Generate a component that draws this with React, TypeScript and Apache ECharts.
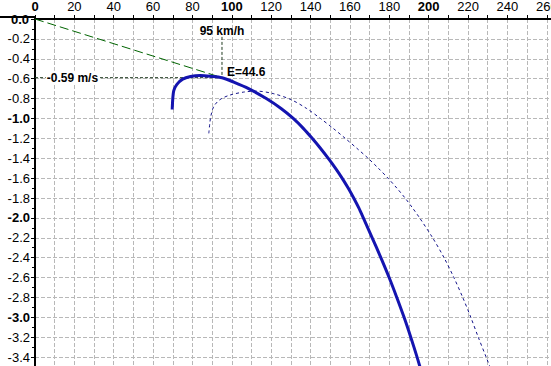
import React, { useEffect, useRef } from 'react';
import * as echarts from 'echarts';

// Glider polar (speed km/h, sink m/s)
const polarSpeed = [69.7, 70, 70.5, 72, 75, 79, 84, 89, 95, 101, 108.5, 117.5, 125, 131.2, 136.3, 140.8, 145, 148.9, 152.6, 156, 159.1, 161.9, 164.5, 166.8, 171.3, 175.7, 179.9, 183.8, 187.5, 190.9, 194.1, 195.6];
const polarSink = [-0.91, -0.8, -0.72, -0.66, -0.605, -0.578, -0.568, -0.575, -0.59, -0.635, -0.7, -0.8, -0.9, -1.0, -1.1, -1.2, -1.3, -1.4, -1.5, -1.6, -1.7, -1.8, -1.9, -2.0, -2.2, -2.4, -2.6, -2.8, -3.0, -3.2, -3.4, -3.5];

// Second (ballasted) polar, dotted
const ballastSpeed = [88.3, 88.8, 89.3, 90.8, 94, 99, 106, 112.5, 121, 130, 138, 145, 151.5, 157.6, 163.5, 169.2, 174.4, 179.3, 183.8, 188, 191.8, 195.4, 202, 207.8, 212.8, 217.3, 221.4, 225.2, 229.2, 231.2];
const ballastSink = [-1.15, -1.05, -0.98, -0.88, -0.81, -0.765, -0.735, -0.725, -0.75, -0.81, -0.9, -1.0, -1.1, -1.2, -1.3, -1.4, -1.5, -1.6, -1.7, -1.8, -1.9, -2.0, -2.2, -2.4, -2.6, -2.8, -3.0, -3.2, -3.4, -3.5];

// Best glide
const bestSpeed = 95;
const bestSink = -0.59;
const speedMarkerTop = -0.18;
const sinkLabelSpeed = 19;
const speedLabel = '95 km/h';
const sinkLabel = '-0.59 m/s';
const ratioLabel = 'E=44.6';

const FONT = 'Liberation Sans';

export default function App() {
  const ref = useRef<HTMLDivElement>(null);
  useEffect(() => {
    const chart = echarts.init(ref.current!, null, { renderer: 'svg' });
    const polar = polarSpeed.map((v, i) => [v, polarSink[i]]);
    const ballast = ballastSpeed.map((v, i) => [v, ballastSink[i]]);
    const gridDash = { color: '#b8b8b8', width: 1, type: [4, 2] as number[] };
    const annot = { fontFamily: FONT, fontSize: 12, fontWeight: 'bold', color: '#000' };
    const option: any = {
      animation: false,
      backgroundColor: '#fff',
      grid: { left: 35, top: 17, width: 560, height: 360, containLabel: false },
      xAxis: {
        type: 'value',
        position: 'top',
        min: 0,
        max: 280,
        interval: 20,
        axisLine: { show: true, onZero: false, lineStyle: { color: '#000', width: 2 } },
        axisTick: { show: true, length: 4, lineStyle: { color: '#000' } },
        minorTick: { show: true, splitNumber: 2, length: 4, lineStyle: { color: '#000' } },
        splitLine: { show: true, lineStyle: gridDash },
        minorSplitLine: { show: true, lineStyle: gridDash },
        axisLabel: {
          margin: 6,
          fontFamily: FONT,
          fontSize: 13,
          color: '#000',
          formatter: (v: number) => (Math.round(v) % 100 === 0 ? `{b|${Math.round(v)}}` : `${Math.round(v)}`),
          rich: { b: { fontFamily: FONT, fontSize: 13, fontWeight: 'bold', color: '#000' } },
        },
      },
      yAxis: {
        type: 'value',
        min: -3.6,
        max: 0,
        interval: 0.2,
        axisLine: { show: true, onZero: false, lineStyle: { color: '#000', width: 2 } },
        axisTick: { show: true, length: 4, lineStyle: { color: '#000' } },
        minorTick: { show: true, splitNumber: 2, length: 3, lineStyle: { color: '#000' } },
        splitLine: { show: true, lineStyle: gridDash },
        axisLabel: {
          margin: 5,
          showMinLabel: false,
          fontFamily: FONT,
          fontSize: 13,
          color: '#000',
          formatter: (v: number) => {
            const r = Math.round(v * 10) / 10;
            if (r < -3.5) return '';
            if (Math.abs(r) < 1e-9) return `{z|0.0}`;
            const s = r.toFixed(1);
            return Math.abs(r - Math.round(r)) < 1e-6 ? `{b|${s}}` : s;
          },
          rich: {
            b: { fontFamily: FONT, fontSize: 13, fontWeight: 'bold', color: '#000' },
            z: { fontFamily: FONT, fontSize: 13, fontWeight: 'bold', color: '#000', backgroundColor: '#fff', padding: [0, 1] },
          },
        },
      },
      graphic: [
        { type: 'line', z: 1, shape: { x1: 0, y1: 17, x2: 35, y2: 17 }, style: { stroke: '#000', lineWidth: 2 } },
      ],
      series: [
        {
          type: 'line',
          data: [[0, 0], [bestSpeed, bestSink]],
          symbol: 'none',
          lineStyle: { color: '#006400', width: 1, type: [9, 4] },
          z: 3,
        },
        {
          type: 'line',
          data: [
            { value: [bestSpeed, speedMarkerTop], label: { show: true, position: 'top', distance: 0, formatter: speedLabel } },
            [bestSpeed, bestSink],
          ],
          symbol: 'circle',
          symbolSize: 0,
          showSymbol: true,
          itemStyle: { color: 'transparent' },
          lineStyle: { color: '#203a20', width: 1, type: [3, 2] },
          label: { show: false, ...annot },
          z: 3,
        },
        {
          type: 'line',
          data: [
            [0, bestSink],
            { value: [sinkLabelSpeed, bestSink], label: { show: true, position: 'inside', formatter: sinkLabel, backgroundColor: '#fff', padding: [1, 1] } },
            [bestSpeed, bestSink],
          ],
          symbol: 'circle',
          symbolSize: 0,
          showSymbol: true,
          itemStyle: { color: 'transparent' },
          lineStyle: { color: '#203a20', width: 1, type: [3, 2] },
          label: { show: false, ...annot },
          z: 3,
        },
        {
          type: 'line',
          data: ballast,
          symbol: 'none',
          smooth: 0.3,
          lineStyle: { color: '#14148a', width: 1, type: [3, 3] },
          z: 4,
        },
        {
          type: 'line',
          data: polar,
          symbol: 'none',
          smooth: 0.3,
          lineStyle: { color: '#1414b0', width: 3 },
          z: 5,
        },
        {
          type: 'line',
          data: [{ value: [bestSpeed, bestSink], label: { show: true, position: 'right', distance: 5, offset: [0, -6], formatter: ratioLabel } }],
          symbol: 'circle',
          symbolSize: 0,
          showSymbol: true,
          itemStyle: { color: 'transparent' },
          lineStyle: { width: 0 },
          label: { show: false, ...annot },
          z: 6,
        },
      ],
    };
    chart.setOption(option);
    return () => chart.dispose();
  }, []);
  return (
    <div style={{ position: 'fixed', left: 0, top: 0, width: 551, height: 366, overflow: 'hidden', background: '#fff' }}>
      <div ref={ref} style={{ width: 600, height: 380 }} />
    </div>
  );
}
